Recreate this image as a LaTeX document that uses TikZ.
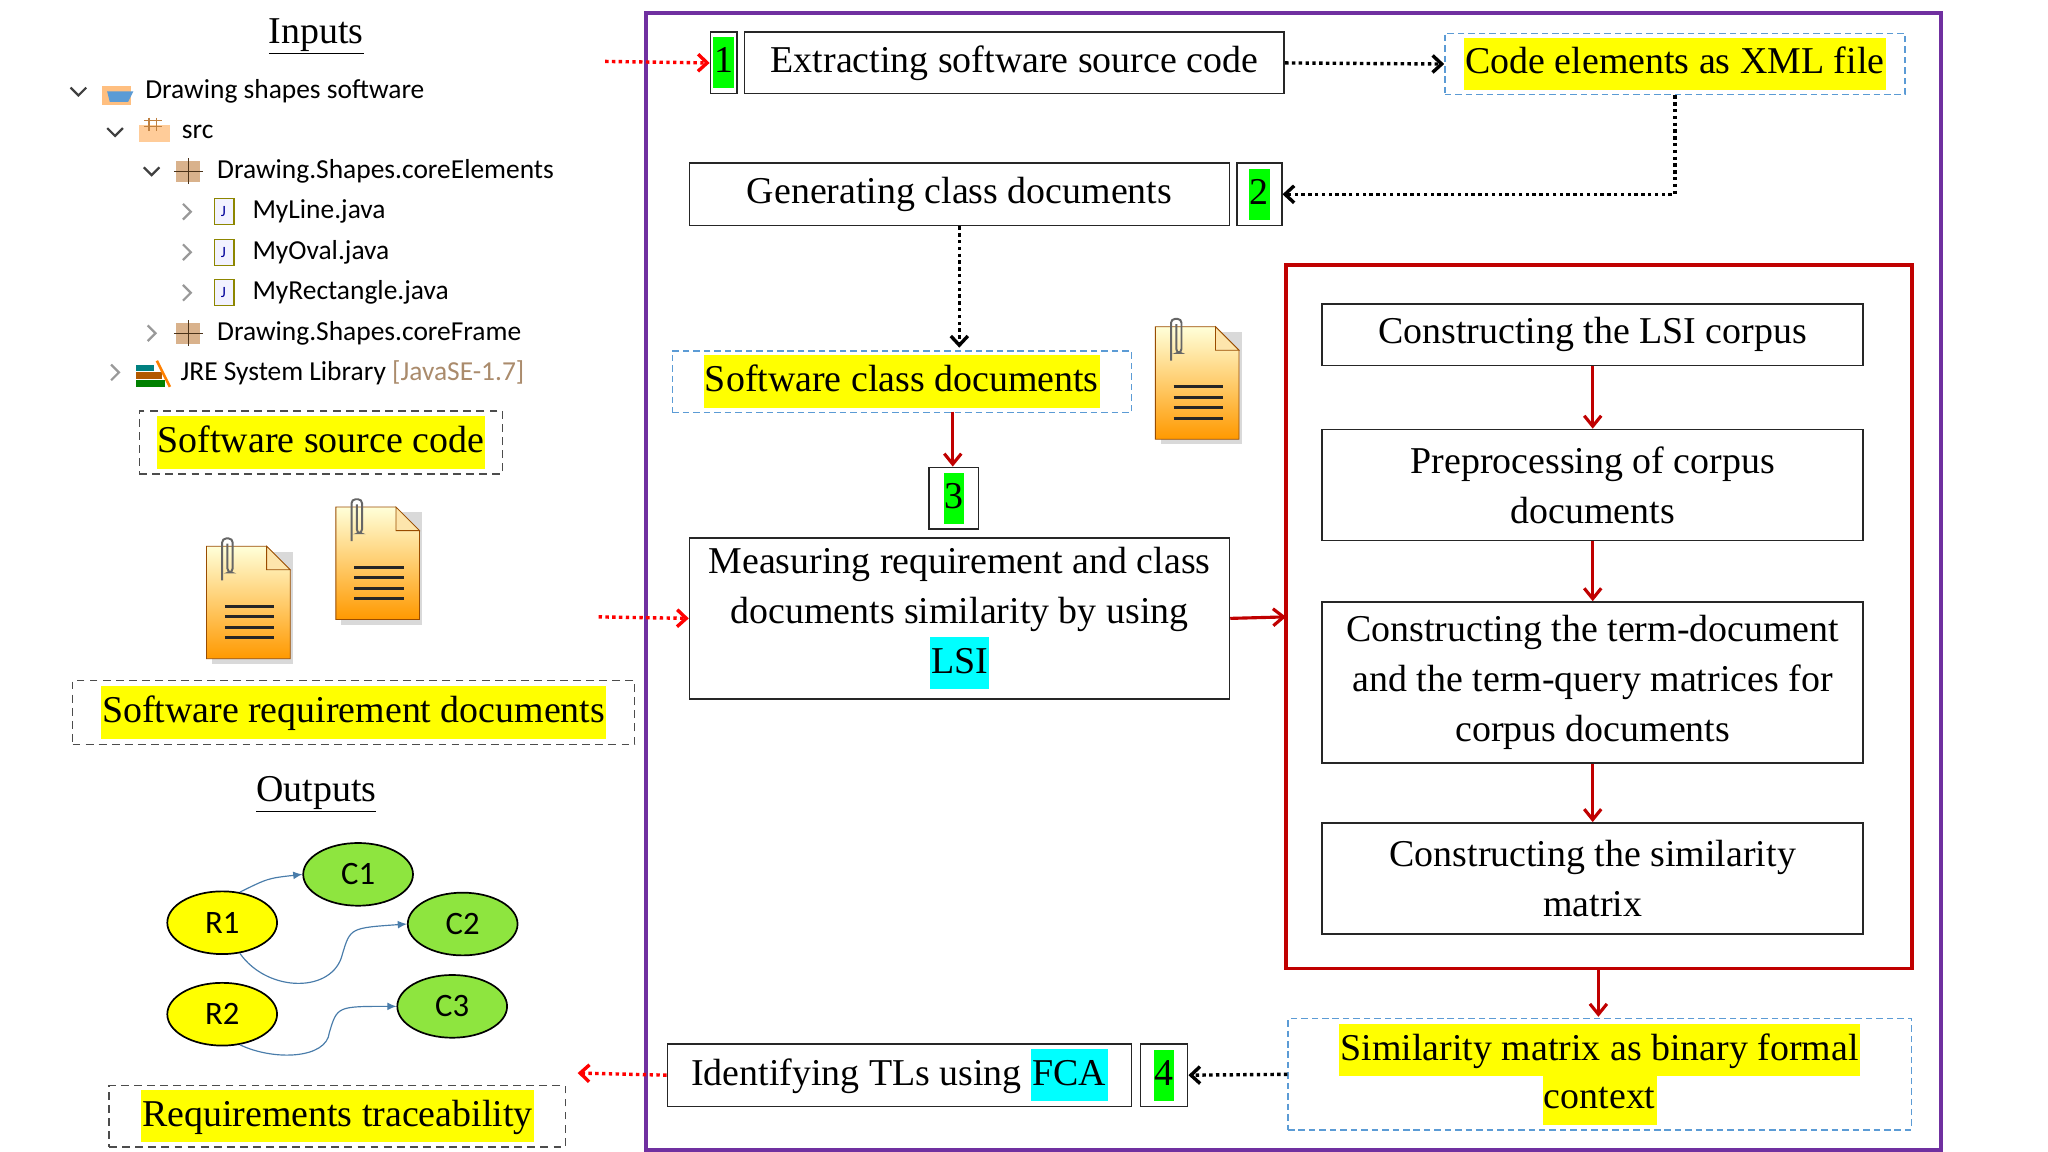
\documentclass[tikz,border=0pt]{standalone}
\usepackage{fontspec}
\setmainfont{Liberation Serif}
\newfontfamily\tree{Carlito}
\usetikzlibrary{arrows.meta,shapes.geometric,positioning,calc}
\definecolor{purp}{HTML}{7030A0}
\definecolor{dred}{HTML}{C00000}
\definecolor{dblue}{HTML}{5B9BD5}
\definecolor{hlg}{HTML}{00FF00}
\definecolor{hly}{HTML}{FFFF00}
\definecolor{hlc}{HTML}{00FFFF}
\definecolor{ellg}{HTML}{8EE53F}
\newcommand\hy[1]{{\setlength\fboxsep{1pt}\colorbox{hly}{\strut #1}}}
\newcommand\hc[1]{{\setlength\fboxsep{1pt}\colorbox{hlc}{\strut #1}}}
\newcommand\hg[1]{{\setlength\fboxsep{0.5pt}\colorbox{hlg}{\strut #1}}}
\tikzset{
 x=1pt,y=-1pt,
 mainf/.style={font=\fontsize{29}{38}\selectfont},
 box/.style={draw=black!85,line width=1.3pt,mainf,align=center,inner sep=0pt,anchor=north west},
 dbox/.style={draw=dblue,dash pattern=on 5pt off 3pt,line width=1pt,mainf,align=center,inner sep=0pt,anchor=north west},
 gbox/.style={draw=black!70,dash pattern=on 6pt off 4pt,line width=1.1pt,mainf,align=center,inner sep=0pt,anchor=north west},
 rarr/.style={dred,line width=2.4pt,-{Straight Barb[length=8pt,width=13pt]}},
 rdot/.style={red,line width=2.6pt,dash pattern=on 2.6pt off 2.6pt,-{Straight Barb[length=7pt,width=13pt]}},
 kdot/.style={black,line width=2.6pt,dash pattern=on 2.6pt off 2.6pt,-{Straight Barb[length=7pt,width=13pt]}},
 tr/.style={font=\tree\fontsize{21}{24}\selectfont,anchor=west,inner sep=0pt},
 ell/.style={ellipse,draw=black,line width=1.3pt,minimum width=84pt,minimum height=48pt,font=\tree\fontsize{25}{28}\selectfont,inner sep=0pt},
 barr/.style={dblue!80!black,line width=0.9pt,-{Latex[length=7pt,width=6pt]}},
 doc/.pic={
  \fill[black!15] (4,4) -- (66,4) -- (66,90) -- (4,90) -- cycle;
  \shade[top color=yellow!15,bottom color=orange!80!yellow,draw=orange!60!black,line width=0.6pt]
   (0,0) -- (46,0) -- (64,18) -- (64,86) -- (0,86) -- cycle;
  \fill[yellow!40!orange!30,draw=orange!60!black,line width=0.6pt] (46,0) -- (46,18) -- (64,18) -- cycle;
  \foreach \yy in {46,54,62,70} \draw[black!85,line width=2.4pt] (14,\yy) -- (52,\yy);
  \draw[black!60,line width=1.5pt,rounded corners=3pt] (12,26) -- (12,-6) -- (20,-6) -- (20,20) -- (16,20) -- (16,-2);
 },
}
\begin{document}
\begin{tikzpicture}
\useasboundingbox (0,0) rectangle (1567,881);
% ---------- Inputs ----------
\node[mainf] (inputs) at (242,28) {\underline{Inputs}};
% tree
\node[tr] (t1) at (111,70) {Drawing shapes software};
\node[tr] (t2) at (139,101) {src};
\node[tr] (t3) at (166,131) {Drawing.Shapes.coreElements};
\node[tr] (t4) at (193,162) {MyLine.java};
\node[tr] (t5) at (193,193) {MyOval.java};
\node[tr] (t6) at (193,224) {MyRectangle.java};
\node[tr] (t7) at (166,255) {Drawing.Shapes.coreFrame};
\node[tr] (t8) at (138,285) {JRE System Library {\color{brown!70!black!70}[JavaSE-1.7]}};
% chevrons
\foreach \cx/\cy in {60/70,88/101,116/131}
  \draw[black!75,line width=1.7pt] (\cx-6,\cy-3) -- (\cx,\cy+3) -- (\cx+6,\cy-3);
\foreach \cx/\cy in {143/162,143/193,143/224,116/255,88/285}
  \draw[black!40,line width=1.7pt] (\cx-3,\cy-6) -- (\cx+3,\cy) -- (\cx-3,\cy+6);
% icons
\fill[orange!50] (78,66) rectangle (100,80); \fill[dblue] (82,70) -- (102,70) -- (98,78) -- (84,78) -- cycle;
\fill[orange!40] (106,96) rectangle (130,109); \draw[brown,line width=0.8pt] (110,92)--(124,92) (110,97)--(124,97) (114,90)--(114,100) (120,90)--(120,100);
\foreach \yy in {131,255}{\fill[brown!60] (135,\yy-8) rectangle (153,\yy+8); \draw[brown!40!black,line width=0.8pt] (144,\yy-10)--(144,\yy+10) (133,\yy)--(155,\yy);}
\foreach \yy in {162,193,224}{\draw[olive,fill=blue!5,line width=1pt] (164,\yy-10) rectangle (179,\yy+10); \node[font=\tree\fontsize{12}{12}\selectfont,text=blue!60!black] at (171,\yy) {J};}
\fill[teal] (104,279) rectangle (118,284); \fill[orange!70!black] (104,285) rectangle (124,290); \fill[green!50!black] (104,291) rectangle (126,296); \draw[orange,line width=2pt] (120,276) -- (130,296);
% source code
\node[gbox,minimum width=278pt,minimum height=48pt] (src) at (106,314) {\hy{Software source code}};
\pic at (158,418) {doc};
\pic at (257,388) {doc};
\node[gbox,minimum width=430pt,minimum height=49pt] (req) at (55,520) {\hy{Software requirement documents}};
% ---------- Outputs ----------
\node[mainf] (outputs) at (242,608) {\underline{Outputs}};
\node[ell,fill=ellg] (c1) at (274,669) {C1};
\node[ell,fill=hly] (r1) at (170,706) {R1};
\node[ell,fill=ellg] (c2) at (354,707) {C2};
\node[ell,fill=hly] (r2) at (170,776) {R2};
\node[ell,fill=ellg] (c3) at (346,770) {C3};
\draw[barr] (r1.60) .. controls (205,672) .. (c1.west);
\draw[barr] (r1.-60) .. controls (205,760) and (255,760) .. (262,730) .. controls (268,710) .. (c2.west);
\draw[barr] (r2.-60) .. controls (210,812) and (250,810) .. (252,790) .. controls (258,770) .. (c3.west);
\node[gbox,minimum width=349pt,minimum height=47pt] (trace) at (83,830) {\hy{Requirements traceability}};
% ---------- main frame ----------
\draw[purp,line width=3pt] (494,10) rectangle (1485,880);
\node[box,minimum width=20pt,minimum height=47pt] (n1) at (543,24) {\hg{1}};
\node[box,minimum width=413pt,minimum height=47pt] (b1) at (569,24) {Extracting software source code};
\node[dbox,minimum width=352pt,minimum height=47pt] (xml) at (1105,25) {\hy{Code elements as XML file}};
\node[box,minimum width=34pt,minimum height=48pt] (n2) at (946,124) {\hg{2}};
\node[box,minimum width=413pt,minimum height=48pt] (b2) at (527,124) {Generating class documents};
\node[dbox,minimum width=351pt,minimum height=47pt] (scd) at (514,268) {\hy{Software class documents}};
\pic at (884,250) {doc};
\node[box,minimum width=38pt,minimum height=47pt] (n3) at (710,357) {\hg{3}};
\node[box,minimum width=413pt,minimum height=123pt] (b3) at (527,411) {Measuring requirement and class\\documents similarity by using\\\hc{LSI}};
\node[box,minimum width=36pt,minimum height=48pt] (n4) at (872,798) {\hg{4}};
\node[box,minimum width=355pt,minimum height=48pt] (b4) at (510,798) {Identifying TLs using \hc{FCA}};
\node[dbox,minimum width=477pt,minimum height=85pt] (sim) at (985,779) {\hy{Similarity matrix as binary formal}\\[-4pt]\hy{context}};
% red frame
\draw[dred,line width=3pt] (984,203) rectangle (1463,741);
\coordinate (rfl) at (984,472);
\coordinate (rfb) at (1223,741);
\node[box,minimum width=414pt,minimum height=47pt] (l1) at (1011,232) {Constructing the LSI corpus};
\node[box,minimum width=414pt,minimum height=85pt] (l2) at (1011,328) {Preprocessing of corpus\\documents};
\node[box,minimum width=414pt,minimum height=123pt] (l3) at (1011,460) {Constructing the term-document\\and the term-query matrices for\\corpus documents};
\node[box,minimum width=414pt,minimum height=85pt] (l4) at (1011,629) {Constructing the similarity\\matrix};
% connectors
\coordinate (in1) at (463,47);
\coordinate (in2) at (458,472);
\coordinate (out) at (442,821);
\draw[rdot] (in1) -- (n1.west);
\draw[kdot] (b1.east) -- (xml.west);
\draw[kdot] (xml.south) |- (n2.east);
\draw[kdot] (b2.south -| 734,0) -- (734,266);
\draw[rarr] (729,315) -- (n3.north -| 729,0);
\draw[rdot] (in2) -- (b3.west);
\draw[rarr] (b3.east) -- (rfl);
\draw[rarr] (l1) -- (l2);
\draw[rarr] (l2) -- (l3);
\draw[rarr] (l3) -- (l4);
\draw[rarr] (rfb) -- (1223,778);
\draw[kdot] (sim.west) -- (n4.east);
\draw[rdot] (b4.west) -- (out);
\end{tikzpicture}
\end{document}
